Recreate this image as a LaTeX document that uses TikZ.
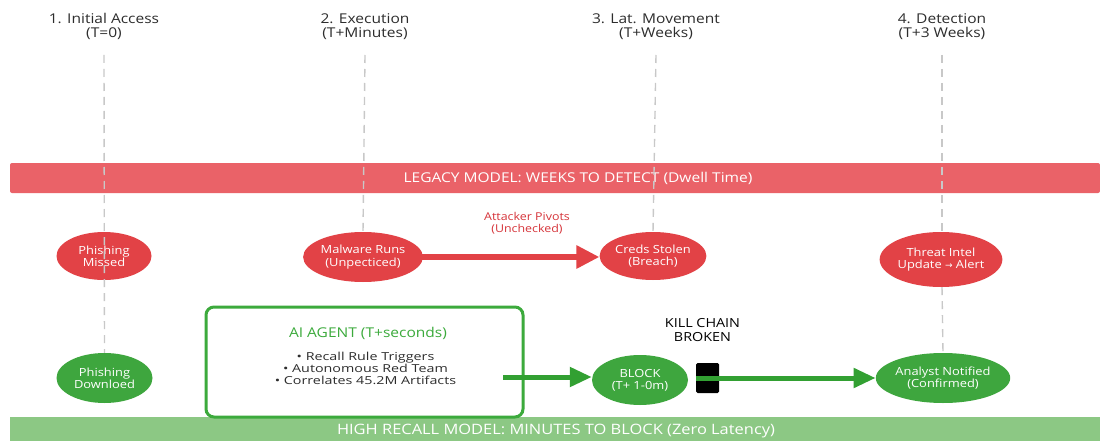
\documentclass[tikz,border=0pt]{standalone}
\usepackage{fontspec}
\setmainfont{Open Sans}[FakeStretch=1.15]
\newfontfamily\bulletfont{Open Sans}[FakeStretch=1.3]
\newfontfamily\arrowfont{DejaVu Sans}
\usetikzlibrary{arrows.meta,shapes.geometric}
\definecolor{bandred}{RGB}{234,98,104}
\definecolor{ellred}{RGB}{226,66,70}
\definecolor{txtred}{RGB}{214,52,58}
\definecolor{bandgreen}{RGB}{140,200,132}
\definecolor{ellgreen}{RGB}{62,166,62}
\definecolor{boxgreen}{RGB}{60,170,60}
\definecolor{arrgreen}{RGB}{50,160,50}
\definecolor{headgray}{RGB}{45,45,45}
\definecolor{dashgray}{RGB}{200,200,200}
\tikzset{
  head/.style={text=headgray, align=center, font=\fontsize{13.5}{13.5}\selectfont},
  vline/.style={draw=dashgray, line width=1.4pt, dash pattern=on 8pt off 6pt},
  elltxt/.style={align=center, inner sep=0pt, text=white, font=\fontsize{11.2}{12.3}\selectfont},
  redell/.style={ellipse, fill=ellred, elltxt},
  greenell/.style={ellipse, fill=ellgreen, elltxt},
  redarrow/.style={draw=ellred, line width=6pt, -{Triangle[length=23pt,width=22pt]}},
  greenarrow/.style={draw=arrgreen, line width=5pt, -{Triangle[length=22pt,width=19pt]}},
}
\begin{document}
\begin{tikzpicture}[x=1pt,y=-1pt]
\useasboundingbox (0,0) rectangle (1100,441);
\fill[white] (0,0) rectangle (1100,441);

% headings
\node[head] (h1) at (104,26.5) {1. Initial Access\\(T=0)};
\node[head] (h2) at (365,26.5) {2. Execution\\(T+Minutes)};
\node[head] (h3) at (656,26.5) {3. Lat. Movement\\(T+Weeks)};
\node[head] (h4) at (942,26.5) {4. Detection\\(T+3 Weeks)};
\coordinate (t1) at (104,55);
\coordinate (t2) at (365,55);
\coordinate (t3) at (656,55);
\coordinate (t4) at (942,55);

% bands
\fill[bandred, rounded corners=2pt] (10,163) rectangle (1100,193);
\node[text=white, font=\fontsize{13.5}{14}\selectfont] (lb) at (578,178) {LEGACY MODEL: WEEKS TO DETECT (Dwell Time)};
\fill[bandgreen] (10,417) rectangle (1100,441);
\node[text=white, font=\fontsize{14.3}{15}\selectfont] (gb) at (556,431) {HIGH RECALL MODEL: MINUTES TO BLOCK (Zero Latency)};

% ellipses
\node[redell, minimum width=95pt, minimum height=48pt] (pm) at (104,256) {Phishing\\Missed};
\node[redell, minimum width=109pt, minimum height=50pt] (mr) at (363,257) {Malware Runs\\(Unpecticed)};
\node[redell, minimum width=104pt, minimum height=48pt] (cs) at (653,256) {Creds Stolen\\(Breach)};
\node[redell, minimum width=109pt, minimum height=55pt] (ti) at (941,259.5) {Threat Intel\\Update {\arrowfont\fontsize{9}{10}\selectfont →} Alert};

\node[greenell, minimum width=96pt, minimum height=50pt] (gp) at (104.5,378) {Phishing\\Downloed};
\node[greenell, minimum width=96pt, minimum height=50pt] (bk) at (640,380) {BLOCK\\(T+ 1-0m)};
\node[greenell, minimum width=110pt, minimum height=50pt] (an) at (943,378) {Analyst Notified\\(Confirmed)};

% dashed vertical lines
\draw[vline] (t1) -- (gp.north);
\draw[vline] (t2) -- (mr.north);
\draw[vline] (t3) -- (cs.north);
\draw[vline] (t4) -- (t4 |- ti.north);
\draw[vline] (t4 |- ti.south) -- (an.north);

% red arrow
\node[text=txtred, align=center, font=\fontsize{10.8}{12}\selectfont] (ap) at (527,223) {Attacker Pivots\\(Unchecked)};
\coordinate (ra) at (419,257);
\draw[redarrow] (ra) -- (cs.west |- ra);

% AI agent box
\node[draw=boxgreen, line width=3pt, rounded corners=8pt, fill=white,
      minimum width=317pt, minimum height=110pt, inner sep=0pt] (ai) at (364.5,362) {};
\node[text=boxgreen, font=\fontsize{13.5}{14}\selectfont] (ait) at (368,333) {AI AGENT (T+seconds)};
\node[text=headgray, align=center, font=\bulletfont\fontsize{11}{11.7}\selectfont] (aib) at (365.5,368.5)
  {• Recall Rule Triggers\\• Autonomous Red Team\\• Correlates 45.2M Artifacts};

% kill chain
\node[text=black, align=center, font=\fontsize{12.5}{14}\selectfont] (kc) at (702.5,330) {KILL CHAIN\\BROKEN};
\node[fill=black, rounded corners=1.5pt, minimum width=23pt, minimum height=30pt, inner sep=0pt] (kb) at (707.5,378) {};

% green arrows
\coordinate (ga) at (503,377);
\draw[greenarrow] (ga) -- (bk.west |- ga);
\draw[greenarrow] (kb.west) -- (an.west);
\end{tikzpicture}
\end{document}
